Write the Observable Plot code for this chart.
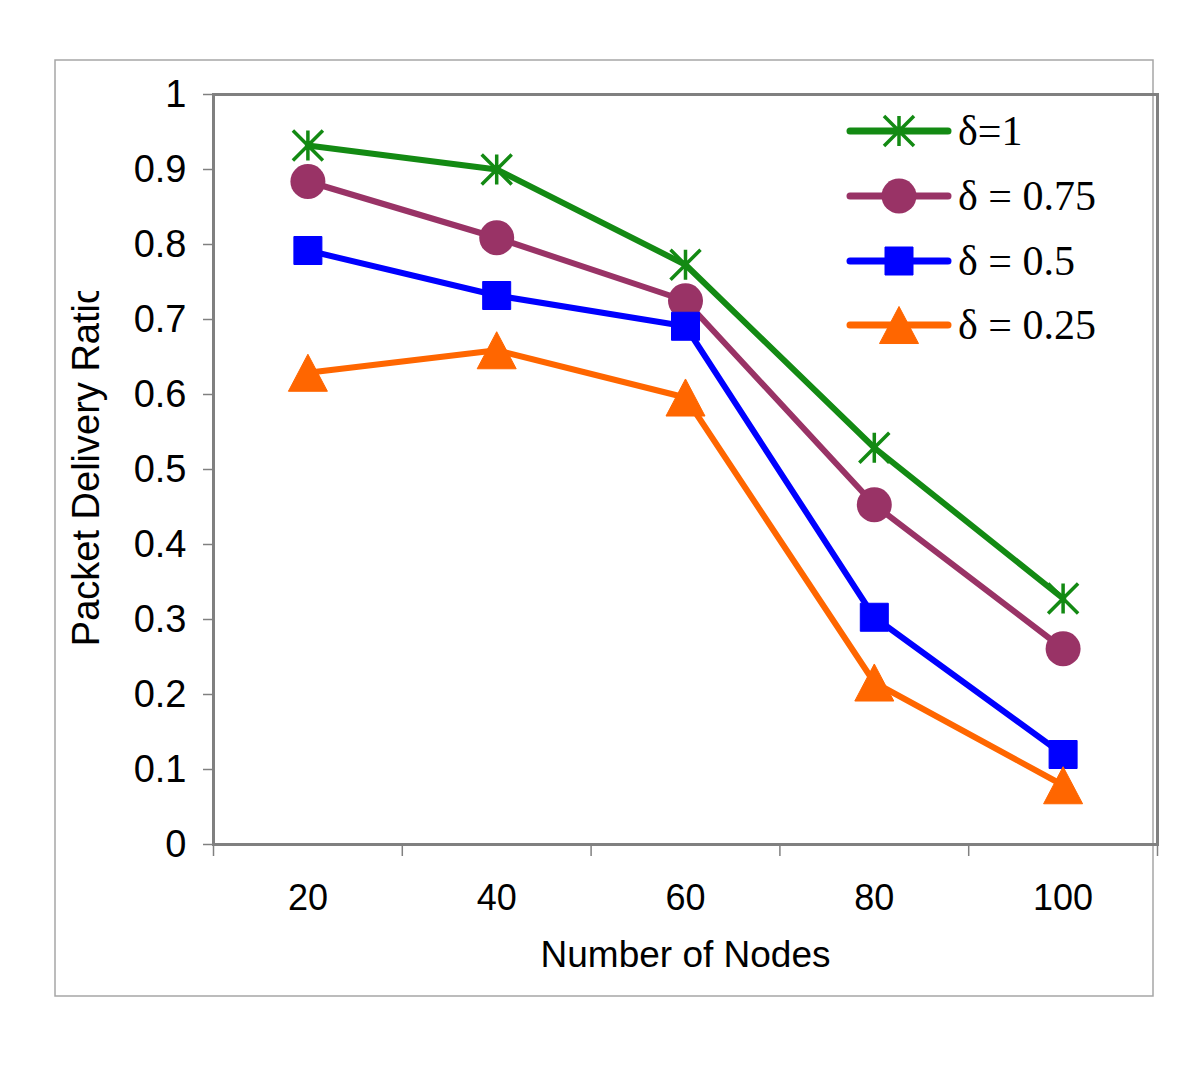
<!DOCTYPE html>
<html>
<head>
<meta charset="utf-8">
<script src="https://cdn.jsdelivr.net/npm/d3@7"></script>
<script src="https://cdn.jsdelivr.net/npm/@observablehq/plot@0.6"></script>
<style>
  html, body { margin: 0; padding: 0; background: #fff; }
  #chart { position: relative; width: 1200px; height: 1081px; }
</style>
</head>
<body>
<div id="chart"></div>
<script>
// ---- data ----
const nodes = [20, 40, 60, 80, 100];
const seriesNames = ["δ=1", "δ = 0.75", "δ = 0.5", "δ = 0.25"];
const delta1   = [0.932, 0.900, 0.773, 0.529, 0.328];
const delta075 = [0.884, 0.809, 0.725, 0.453, 0.261];
const delta05  = [0.792, 0.732, 0.691, 0.303, 0.120];
const delta025 = [0.629, 0.659, 0.596, 0.216, 0.079];
const yTicks = [0, 0.1, 0.2, 0.3, 0.4, 0.5, 0.6, 0.7, 0.8, 0.9, 1];
const xBoundaryTicks = [10, 30, 50, 70, 90, 110];
const xTitle = "Number of Nodes";
const yTitle = "Packet Delivery Ratio";

// ---- custom marker shapes (size = pi r^2) ----
const rad = s => Math.sqrt(s / Math.PI);
const starSym = { draw(c, s) { const r = rad(s);
  c.moveTo(0, -r); c.lineTo(0, r);
  c.moveTo(-r, -r); c.lineTo(r, r);
  c.moveTo(r, -r); c.lineTo(-r, r); } };
const circleSym = { draw(c, s) { const r = rad(s); c.moveTo(r, 0); c.arc(0, 0, r, 0, 2 * Math.PI); c.closePath(); } };
const squareSym = { draw(c, s) { const r = rad(s); c.rect(-r, -r, 2 * r, 2 * r); } };
const triSym = { draw(c, s) { const r = rad(s);
  c.moveTo(0, -0.95 * r); c.lineTo(r, 0.95 * r); c.lineTo(-r, 0.95 * r); c.closePath(); } };

const values = [delta1, delta075, delta05, delta025];
const styles = [
  { color: "#138a13", symbol: starSym, r: 15, fill: "none", sw: 3.5 },
  { color: "#993366", symbol: circleSym, r: 17.5, fill: "#993366", sw: 0 },
  { color: "#0000ff", symbol: squareSym, r: 14, fill: "#0000ff", sw: 1 },
  { color: "#ff6600", symbol: triSym, r: 19.5, fill: "#ff6600", sw: 1 }
];

const table = [];
seriesNames.forEach((name, i) => nodes.forEach((n, j) => table.push({ series: name, idx: i, nodes: n, value: values[i][j] })));

const marks = [];
seriesNames.forEach((name, i) => {
  const d = table.filter(t => t.idx === i);
  marks.push(Plot.line(d, { x: "nodes", y: "value", stroke: styles[i].color, strokeWidth: 6 }));
});
seriesNames.forEach((name, i) => {
  const d = table.filter(t => t.idx === i);
  const st = styles[i];
  marks.push(Plot.dot(d, { x: "nodes", y: "value", symbol: st.symbol, r: st.r,
    fill: st.fill, stroke: st.color, strokeWidth: st.sw, strokeLinejoin: "round" }));
});

const fontSans = "'Liberation Sans', Arial, Helvetica, sans-serif";

const svg = Plot.plot({
  width: 1200,
  height: 1081,
  marginTop: 94,
  marginBottom: 237,
  marginLeft: 213,
  marginRight: 43,
  style: { fontFamily: fontSans, background: "#fff", color: "#000" },
  x: { type: "linear", domain: [10, 110] },
  y: { domain: [0, 1] },
  marks: [
    Plot.axisY({ ticks: yTicks, tickSize: 10, tickPadding: 17, fontSize: 38, tickFormat: d => String(d),
      stroke: "#808080", strokeWidth: 1.5, label: null, color: "#000" }),
    Plot.axisX({ ticks: xBoundaryTicks, tickSize: 12, tickFormat: () => "", stroke: "#808080", strokeWidth: 1.5, label: null }),
    Plot.axisX({ ticks: nodes, tickSize: 0, tickPadding: 40, fontSize: 36, tickFormat: d => String(d), label: null }),
    Plot.frame({ stroke: "#808080", strokeWidth: 3 }),
    Plot.text([xTitle], { text: d => d, frameAnchor: "bottom", dy: 122, fontSize: 37, fill: "#000" }),
    Plot.text([yTitle], { text: d => d, frameAnchor: "left", textAnchor: "middle", rotate: -90, dx: -127, dy: -5, fontSize: 38, fill: "#000" }),
    ...marks
  ]
});

// outer border and clipping of the y title
const s = d3.select(svg);
s.insert("rect", ":first-child")
  .attr("x", 55).attr("y", 60).attr("width", 1098).attr("height", 936)
  .attr("fill", "none").attr("stroke", "#a6a6a6").attr("stroke-width", 1.5);
const defs = s.append("defs");
defs.append("clipPath").attr("id", "ytclip").append("rect")
  .attr("x", 0).attr("y", 291).attr("width", 200).attr("height", 500);
const ytText = s.selectAll("text").filter(function () { return this.textContent === yTitle; }).node();
if (ytText) {
  const ytGroup = ytText.parentNode;
  const wrap = document.createElementNS("http://www.w3.org/2000/svg", "g");
  wrap.setAttribute("clip-path", "url(#ytclip)");
  ytGroup.parentNode.insertBefore(wrap, ytGroup);
  wrap.appendChild(ytGroup);
}

// legend
const lg = s.append("g")
  .style("font-family", "'Liberation Serif', 'Times New Roman', serif")
  .style("font-size", "42px")
  .attr("text-anchor", "start");
const rowY = [131, 196, 261, 325];
seriesNames.forEach((name, i) => {
  const st = styles[i];
  const g = lg.append("g").attr("transform", `translate(0,${rowY[i]})`);
  g.append("line").attr("x1", 850).attr("x2", 948).attr("stroke", st.color).attr("stroke-width", 7).attr("stroke-linecap", "round");
  const p = d3.path(); st.symbol.draw(p, st.r * st.r * Math.PI);
  g.append("path").attr("d", p.toString()).attr("transform", "translate(899,0)")
    .attr("fill", st.fill).attr("stroke", st.color).attr("stroke-width", st.sw).attr("stroke-linejoin", "round");
  g.append("text").attr("x", 958).attr("y", 14).attr("fill", "#000").attr("text-anchor", "start").text(name);
});

document.getElementById("chart").appendChild(svg);
</script>
</body>
</html>
